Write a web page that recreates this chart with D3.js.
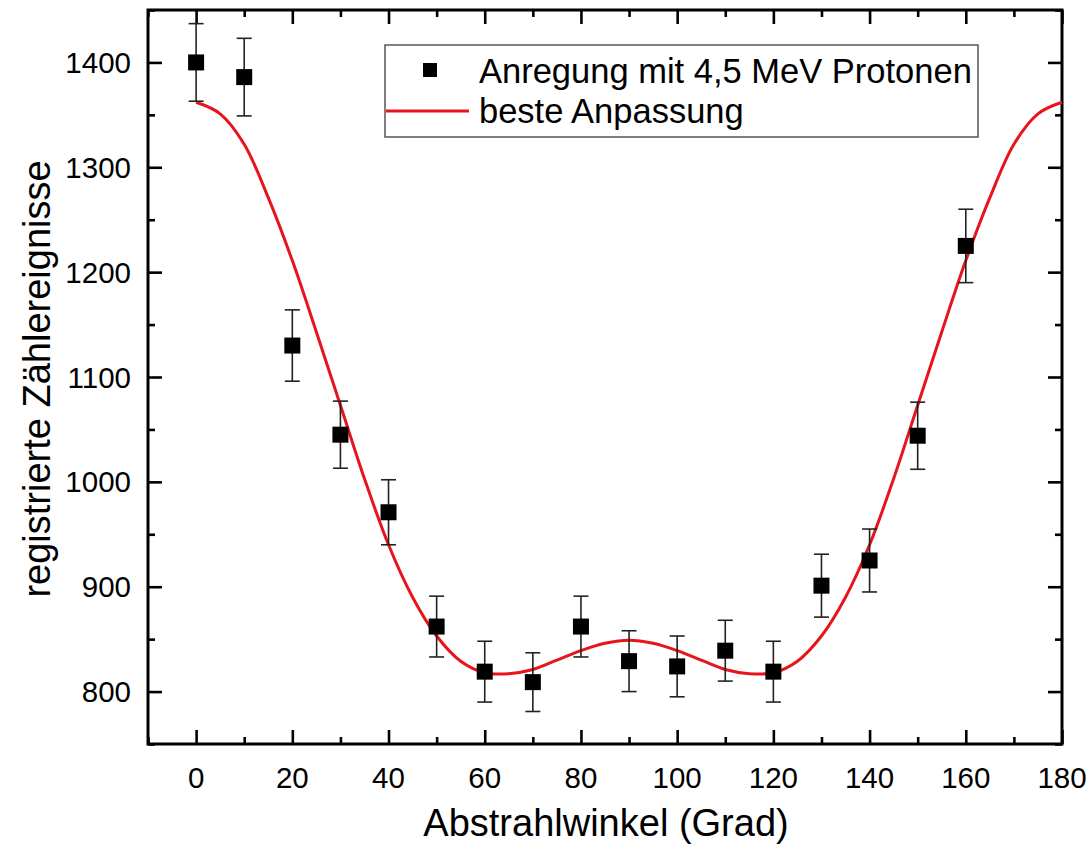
<!DOCTYPE html>
<html>
<head>
<meta charset="utf-8">
<script src="https://cdn.jsdelivr.net/npm/d3@7"></script>
<style>
  html, body { margin: 0; padding: 0; background: #fff; }
  svg { display: block; }
  text { font-family: "Liberation Sans", Arial, sans-serif; fill: #000; }
</style>
</head>
<body>
<svg id="chart" width="1090" height="850"></svg>
<script>
// Measured counts per emission angle, with their statistical errors
const angles = [0, 10, 20, 30, 40, 50, 60, 70, 80, 90, 100, 110, 120, 130, 140, 150, 160];
const counts = [1400, 1386, 1130, 1045, 971, 862, 819, 809, 862, 829, 824, 839, 819, 901, 925, 1044, 1225];
const errors = [37, 37, 34, 32, 31, 29, 29, 28, 29, 29, 29, 29, 29, 30, 30, 32, 35];

// Best-fit angular distribution, sampled every 5 degrees
const fitAngles = [0, 5, 10, 15, 20, 25, 30, 35, 40, 45, 50, 55, 60, 65, 70, 75, 80, 85, 90,
                   95, 100, 105, 110, 115, 120, 125, 130, 135, 140, 145, 150, 155, 160, 165, 170, 175, 180];
const fitValues = [1362, 1351, 1322, 1271, 1211, 1143, 1073, 1003, 940, 890, 853, 829, 818, 817, 821, 830, 839, 846, 849,
                   846, 839, 830, 821, 817, 818, 829, 853, 890, 940, 1003, 1073, 1143, 1211, 1271, 1322, 1351, 1362];

// Axis ticks
const xMajorTicks = [0, 20, 40, 60, 80, 100, 120, 140, 160, 180];
const xMinorTicks = [-10, 10, 30, 50, 70, 90, 110, 130, 150, 170];
const yMajorTicks = [800, 900, 1000, 1100, 1200, 1300, 1400];
const yMinorTicks = [750, 850, 950, 1050, 1150, 1250, 1350, 1450];

const legendLabels = ["Anregung mit 4,5 MeV Protonen", "beste Anpassung"];
const xTitle = "Abstrahlwinkel (Grad)";
const yTitle = "registrierte Zählereignisse";

const svg = d3.select("#chart");
const plotL = 148, plotR = 1062, plotT = 10, plotB = 744;

const x = d3.scaleLinear().domain([-10, 180]).range([plotL, plotR]);
const y = d3.scaleLinear().domain([750, 1450]).range([plotB, plotT]);

const red = "#e8141b";
const tickMajor = 14, tickMinor = 7;

// Inward ticks on all four sides
function drawAxis(makeAxis, transform, majorVals, minorVals) {
  const gMinor = svg.append("g").attr("transform", transform)
    .call(makeAxis().tickValues(minorVals).tickSize(tickMinor).tickFormat(""));
  const gMajor = svg.append("g").attr("transform", transform)
    .call(makeAxis().tickValues(majorVals).tickSize(tickMajor).tickFormat(""));
  [gMinor, gMajor].forEach(g => {
    g.select(".domain").remove();
    g.selectAll(".tick line").attr("stroke", "#000").attr("stroke-width", 2.6);
  });
}

drawAxis(() => d3.axisTop(x), `translate(0,${plotB})`, xMajorTicks, xMinorTicks);
drawAxis(() => d3.axisBottom(x), `translate(0,${plotT})`, xMajorTicks, xMinorTicks);
drawAxis(() => d3.axisRight(y), `translate(${plotL},0)`, yMajorTicks, yMinorTicks);
drawAxis(() => d3.axisLeft(y), `translate(${plotR},0)`, yMajorTicks, yMinorTicks);

// Tick labels
svg.append("g").selectAll("text").data(xMajorTicks).join("text")
  .attr("x", d => x(d)).attr("y", 788)
  .attr("text-anchor", "middle").attr("font-size", 29.5)
  .text(d => d);
svg.append("g").selectAll("text").data(yMajorTicks).join("text")
  .attr("x", 131).attr("y", d => y(d) + 10.5)
  .attr("text-anchor", "end").attr("font-size", 29.5)
  .text(d => d);

// Frame
svg.append("rect")
  .attr("x", plotL).attr("y", plotT)
  .attr("width", plotR - plotL).attr("height", plotB - plotT)
  .attr("fill", "none").attr("stroke", "#000").attr("stroke-width", 3);

// Axis titles
svg.append("text")
  .attr("x", 606).attr("y", 836)
  .attr("text-anchor", "middle").attr("font-size", 38)
  .text(xTitle);
svg.append("text")
  .attr("transform", `translate(50,379) rotate(-90)`)
  .attr("text-anchor", "middle").attr("font-size", 38)
  .text(yTitle);

// Fit curve
const fitData = fitAngles.map((a, i) => [a, fitValues[i]]);
svg.append("path")
  .datum(fitData)
  .attr("fill", "none").attr("stroke", red).attr("stroke-width", 3)
  .attr("d", d3.line().x(d => x(d[0])).y(d => y(d[1])).curve(d3.curveCatmullRom.alpha(0.5)));

// Error bars
const pts = angles.map((a, i) => ({ a, v: counts[i], e: errors[i] }));
const eb = svg.append("g").attr("stroke", "#222").attr("stroke-width", 1.6);
eb.selectAll("line.v").data(pts).join("line").attr("class", "v")
  .attr("x1", d => x(d.a)).attr("x2", d => x(d.a))
  .attr("y1", d => y(d.v + d.e)).attr("y2", d => y(d.v - d.e));
eb.selectAll("line.t").data(pts).join("line").attr("class", "t")
  .attr("x1", d => x(d.a) - 7.5).attr("x2", d => x(d.a) + 7.5)
  .attr("y1", d => y(d.v + d.e)).attr("y2", d => y(d.v + d.e));
eb.selectAll("line.b").data(pts).join("line").attr("class", "b")
  .attr("x1", d => x(d.a) - 7.5).attr("x2", d => x(d.a) + 7.5)
  .attr("y1", d => y(d.v - d.e)).attr("y2", d => y(d.v - d.e));

// Square markers
const ms = 16;
svg.append("g").selectAll("rect").data(pts).join("rect")
  .attr("x", d => x(d.a) - ms / 2).attr("y", d => y(d.v) - ms / 2)
  .attr("width", ms).attr("height", ms).attr("fill", "#000");

// Legend
const lg = svg.append("g");
lg.append("rect")
  .attr("x", 385).attr("y", 45).attr("width", 593).attr("height", 92)
  .attr("fill", "#fff").attr("stroke", "#555").attr("stroke-width", 1.5);
lg.append("rect").attr("x", 423).attr("y", 63).attr("width", 14).attr("height", 14).attr("fill", "#000");
lg.append("line").attr("x1", 386).attr("x2", 469).attr("y1", 111).attr("y2", 111)
  .attr("stroke", red).attr("stroke-width", 3);
lg.append("text").attr("x", 479).attr("y", 83).attr("font-size", 34.5).text(legendLabels[0]);
lg.append("text").attr("x", 479).attr("y", 123).attr("font-size", 34.5).text(legendLabels[1]);
</script>
</body>
</html>
